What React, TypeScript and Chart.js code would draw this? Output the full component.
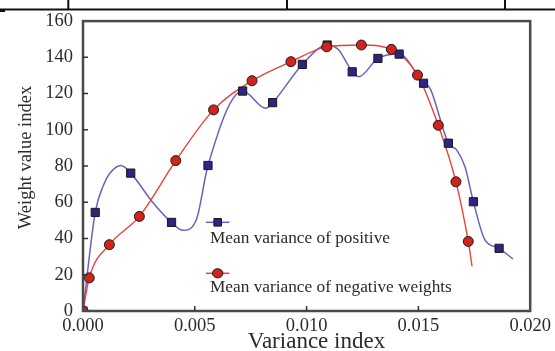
import React, { useEffect, useRef } from 'react';
import { Chart, registerables } from 'chart.js';

Chart.register(...registerables);

// ---- data ----
const xTickValues = [0, 0.005, 0.01, 0.015, 0.02];
const yTickValues = [0, 20, 40, 60, 80, 100, 120, 140, 160];

const xTitle = 'Variance index';
const yTitle = 'Weight value index';
const posLabel = 'Mean variance of positive';
const negLabel = 'Mean variance of negative weights';

// positive: marker points
const posMarkX = [0, 0.000547, 0.002135, 0.00396, 0.00559, 0.00714, 0.00848, 0.00981, 0.01092, 0.01204, 0.01319, 0.01414, 0.01523, 0.01634, 0.01746, 0.01861];
const posMarkY = [0, 54.4, 76.1, 48.9, 80.3, 121.4, 115.0, 136.1, 146.8, 132.0, 139.4, 141.8, 125.7, 92.6, 60.3, 34.6];

// positive: smooth curve vertices (markers + visible bends of the line)
const posCurveX = [0, 0.000547, 0.0009, 0.0012, 0.0017, 0.002135, 0.00314, 0.00396, 0.00447, 0.00507, 0.00559, 0.00714, 0.00818, 0.00848, 0.00981, 0.01092, 0.01144, 0.01181, 0.01204, 0.01233, 0.01319, 0.01414, 0.01523, 0.01552, 0.01634, 0.01671, 0.01708, 0.01746, 0.01797, 0.01861, 0.01923];
const posCurveY = [0, 54.4, 69, 76, 80.3, 76.1, 59.6, 48.9, 44.5, 50.4, 80.3, 121.4, 111.9, 115.0, 136.1, 146.8, 144, 136.7, 132.0, 129.3, 139.4, 141.8, 125.7, 122.9, 92.6, 88.9, 79.7, 60.3, 39.4, 34.6, 28.7];

// negative: marker points
const negMarkX = [0, 0.00028, 0.00118, 0.00252, 0.00415, 0.00584, 0.00756, 0.0093, 0.0109, 0.01245, 0.01379, 0.01496, 0.01589, 0.01668, 0.01723];
const negMarkY = [0, 18.3, 36.6, 52.2, 83.0, 111.0, 127.1, 137.6, 145.8, 146.8, 144.4, 130.2, 102.5, 71.3, 38.4];

// negative: curve vertices
const negCurveX = [0, 0.00028, 0.00118, 0.00252, 0.00415, 0.00584, 0.00756, 0.0093, 0.0109, 0.01245, 0.01379, 0.01496, 0.01589, 0.01668, 0.01723, 0.0174];
const negCurveY = [0, 18.3, 36.6, 52.2, 83.0, 111.0, 127.1, 137.6, 145.8, 146.8, 144.4, 130.2, 102.5, 71.3, 38.4, 24.7];

const zip = (xs: number[], ys: number[]) => xs.map((x, i) => ({ x, y: ys[i] }));

const SERIF = '"Liberation Serif", "DejaVu Serif", serif';
const TEXT = '#2b2b2b';
const BLUE_LINE = '#6a62b8';
const BLUE_FILL = '#2c2584';
const RED_LINE = '#e8433a';
const RED_FILL = '#d2231b';

const decorPlugin = {
  id: 'decor',
  afterDraw(chart: any) {
    const { ctx, chartArea: a, scales } = chart;
    const xs = scales.x;
    const ys = scales.y;
    ctx.save();
    // document table rule at the very top
    ctx.strokeStyle = '#111';
    ctx.lineWidth = 2;
    ctx.beginPath();
    ctx.moveTo(0, 9.5);
    ctx.lineTo(555, 9.5);
    [68.3, 287, 505].forEach((vx) => {
      ctx.moveTo(vx, 0);
      ctx.lineTo(vx, 9.5);
    });
    ctx.stroke();
    ctx.fillStyle = '#111';
    ctx.fillRect(0, 9.5, 5, 2.5);

    // frame
    ctx.strokeStyle = '#4a4a4a';
    ctx.lineWidth = 2.5;
    ctx.strokeRect(a.left, a.top, a.right - a.left, a.bottom - a.top);

    // inward tick marks
    ctx.lineWidth = 1.5;
    ctx.strokeStyle = '#333';
    ctx.beginPath();
    xTickValues.slice(1, -1).forEach((v) => {
      const px = xs.getPixelForValue(v);
      ctx.moveTo(px, a.bottom);
      ctx.lineTo(px, a.bottom - 5);
    });
    yTickValues.slice(1, -1).forEach((v) => {
      const py = ys.getPixelForValue(v);
      ctx.moveTo(a.left, py);
      ctx.lineTo(a.left + 5, py);
    });
    ctx.stroke();

    // legend
    const drawEntry = (y: number, lineColor: string, fill: string, square: boolean, label: string, textY: number) => {
      ctx.strokeStyle = lineColor;
      ctx.lineWidth = 1.5;
      ctx.beginPath();
      ctx.moveTo(206, y);
      ctx.lineTo(229.5, y);
      ctx.stroke();
      ctx.fillStyle = fill;
      ctx.strokeStyle = '#1a1a1a';
      ctx.lineWidth = 1;
      ctx.beginPath();
      if (square) {
        ctx.rect(217.7 - 3.8, y - 3.8, 7.6, 7.6);
      } else {
        ctx.ellipse(217.7, y, 5.2, 4.6, 0, 0, Math.PI * 2);
      }
      ctx.fill();
      ctx.stroke();
      ctx.fillStyle = TEXT;
      ctx.font = `17.3px ${SERIF}`;
      ctx.textAlign = 'left';
      ctx.textBaseline = 'alphabetic';
      ctx.fillText(label, 210, textY);
    };
    drawEntry(222.3, BLUE_LINE, BLUE_FILL, true, posLabel, 243.3);
    drawEntry(273.3, RED_LINE, RED_FILL, false, negLabel, 291.7);

    // axis titles
    ctx.fillStyle = TEXT;
    ctx.font = `23px ${SERIF}`;
    ctx.textAlign = 'center';
    ctx.textBaseline = 'alphabetic';
    ctx.fillText(xTitle, 316.5, 348);

    ctx.translate(30.5, 157.5);
    ctx.rotate(-Math.PI / 2);
    ctx.font = `18.5px ${SERIF}`;
    ctx.fillText(yTitle, 0, 0);
    ctx.restore();
  },
};

export default function App() {
  const ref = useRef<HTMLCanvasElement | null>(null);

  useEffect(() => {
    if (!ref.current) return;
    const chart = new Chart(ref.current, {
      type: 'line',
      data: {
        datasets: [
          {
            label: negLabel + ' markers',
            data: zip(negMarkX, negMarkY),
            showLine: false,
            pointStyle: 'circle',
            pointRadius: 5,
            pointBackgroundColor: RED_FILL,
            pointBorderColor: '#1a1a1a',
            pointBorderWidth: 1,
            order: 0,
          },
          {
            label: posLabel + ' markers',
            data: zip(posMarkX, posMarkY),
            showLine: false,
            pointStyle: 'rect',
            pointRadius: 5.8,
            pointBackgroundColor: BLUE_FILL,
            pointBorderColor: '#1a1a1a',
            pointBorderWidth: 1,
            order: 1,
          },
          {
            label: negLabel,
            data: zip(negCurveX, negCurveY),
            borderColor: RED_LINE,
            borderWidth: 1.4,
            pointRadius: 0,
            cubicInterpolationMode: 'monotone',
            fill: false,
            order: 2,
          },
          {
            label: posLabel,
            data: zip(posCurveX, posCurveY),
            borderColor: BLUE_LINE,
            borderWidth: 1.5,
            pointRadius: 0,
            cubicInterpolationMode: 'monotone',
            fill: false,
            order: 3,
          },
        ],
      },
      options: {
        animation: false,
        responsive: false,
        devicePixelRatio: 1,
        layout: { padding: { top: 21, right: 23, left: 0, bottom: 0 } },
        plugins: {
          legend: { display: false },
          tooltip: { enabled: false },
        },
        scales: {
          x: {
            type: 'linear',
            min: 0,
            max: 0.02,
            grid: { display: false, drawTicks: false },
            border: { display: false },
            afterBuildTicks: (s: any) => {
              s.ticks = xTickValues.map((v) => ({ value: v }));
            },
            afterFit: (s: any) => {
              s.height = 40;
            },
            ticks: {
              autoSkip: false,
              maxRotation: 0,
              padding: 4,
              color: TEXT,
              font: { family: SERIF, size: 18.5 },
              callback: (v: any) => Number(v).toFixed(3),
            },
          },
          y: {
            type: 'linear',
            min: 0,
            max: 160,
            grid: { display: false, drawTicks: false },
            border: { display: false },
            afterBuildTicks: (s: any) => {
              s.ticks = yTickValues.map((v) => ({ value: v }));
            },
            afterFit: (s: any) => {
              s.width = 83;
            },
            ticks: {
              padding: 10,
              color: TEXT,
              font: { family: SERIF, size: 18.5 },
            },
          },
        },
      },
      plugins: [decorPlugin],
    });
    return () => chart.destroy();
  }, []);

  return (
    <div style={{ position: 'absolute', left: 0, top: 0, width: 555, height: 351, background: '#fff' }}>
      <canvas ref={ref} width={555} height={351} />
    </div>
  );
}
